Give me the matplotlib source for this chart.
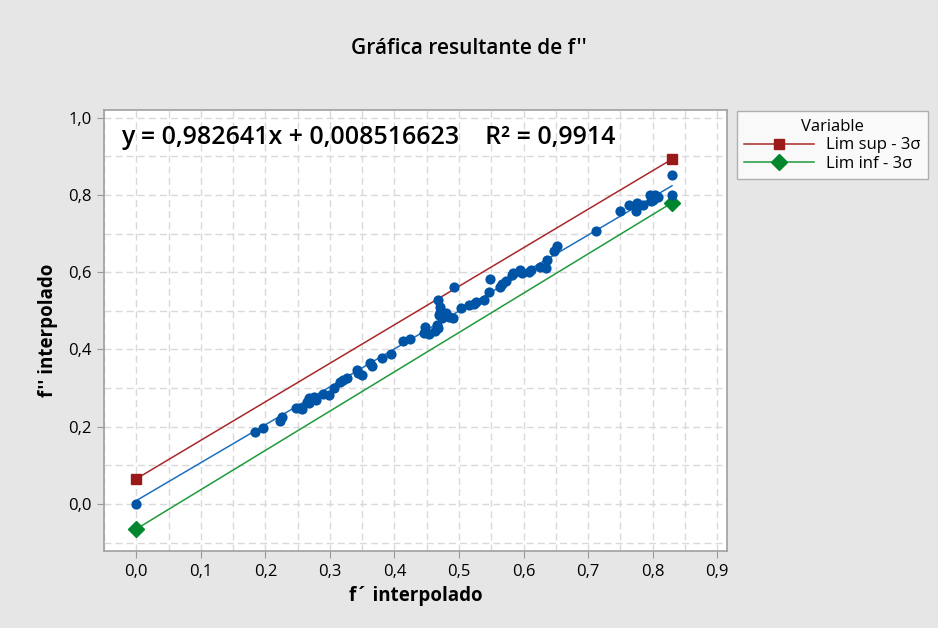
import matplotlib
matplotlib.use("Agg")
import matplotlib.pyplot as plt
from matplotlib.ticker import MultipleLocator, FuncFormatter
import numpy as np

# observed points (f' interpolado, f'' interpolado)
f_prime = [0.000, 0.184, 0.196, 0.222, 0.226, 0.248, 0.253, 0.256, 0.265, 0.267,
           0.268, 0.275, 0.279, 0.289, 0.299, 0.306, 0.315, 0.321, 0.327, 0.342,
           0.344, 0.350, 0.362, 0.365, 0.380, 0.394, 0.414, 0.424, 0.446, 0.448,
           0.454, 0.463, 0.468, 0.466, 0.467, 0.470, 0.471, 0.469, 0.473, 0.480,
           0.484, 0.491, 0.492, 0.503, 0.516, 0.523, 0.527, 0.538, 0.547, 0.548,
           0.564, 0.566, 0.573, 0.582, 0.584, 0.594, 0.597, 0.608, 0.611, 0.625,
           0.635, 0.636, 0.647, 0.652, 0.712, 0.749, 0.764, 0.774, 0.776, 0.785,
           0.796, 0.797, 0.800, 0.804, 0.809, 0.830, 0.830]
f_double = [0.000, 0.186, 0.197, 0.215, 0.224, 0.248, 0.248, 0.246, 0.265, 0.261,
            0.274, 0.278, 0.269, 0.285, 0.282, 0.300, 0.317, 0.321, 0.327, 0.347,
            0.339, 0.334, 0.365, 0.356, 0.377, 0.389, 0.422, 0.428, 0.444, 0.459,
            0.440, 0.449, 0.455, 0.464, 0.527, 0.511, 0.498, 0.490, 0.481, 0.494,
            0.485, 0.481, 0.561, 0.507, 0.516, 0.518, 0.522, 0.528, 0.548, 0.582,
            0.563, 0.570, 0.578, 0.593, 0.598, 0.606, 0.598, 0.602, 0.606, 0.613,
            0.610, 0.632, 0.654, 0.667, 0.707, 0.759, 0.774, 0.759, 0.779, 0.774,
            0.801, 0.785, 0.788, 0.801, 0.796, 0.852, 0.801]

# fit and 3-sigma limits
slope = 0.982641
intercept = 0.008516623
r_squared = 0.9914
lim_x = [0.0, 0.83]
lim_sup = [0.065, 0.893]
lim_inf = [-0.065, 0.780]

BG = "#e6e6e6"
BLUE = "#0054a6"
RED = "#9a1a1a"
GREEN = "#00872e"

plt.rcParams["font.family"] = ["Open Sans", "DejaVu Sans"]

fig = plt.figure(figsize=(9.38, 6.28), dpi=100, facecolor=BG)
ax = fig.add_axes([0.1109, 0.1226, 0.664, 0.702])
ax.set_facecolor("white")

ax.set_xlim(-0.05, 0.915)
ax.set_ylim(-0.122, 1.02)

ax.xaxis.set_major_locator(MultipleLocator(0.1))
ax.xaxis.set_minor_locator(MultipleLocator(0.05))
ax.yaxis.set_major_locator(MultipleLocator(0.2))
ax.yaxis.set_minor_locator(MultipleLocator(0.1))
comma = FuncFormatter(lambda v, _: f"{v:.1f}".replace(".", ",").replace("-0,0", "0,0"))
ax.xaxis.set_major_formatter(comma)
ax.yaxis.set_major_formatter(comma)

ax.grid(which="both", color="#d9d9d9", linestyle=(0, (5, 3)), linewidth=1.0)
ax.set_axisbelow(True)
ax.tick_params(which="major", length=5, color="#999999", labelsize=12, pad=4)
ax.tick_params(which="minor", length=0)
for s in ax.spines.values():
    s.set_color("#a0a0a0")
    s.set_linewidth(1.2)

# regression line
fx = np.array(lim_x)
ax.plot(fx, slope * fx + intercept, color="#1f6fc0", linewidth=1.1, zorder=3)
ax.scatter(f_prime, f_double, s=54, color=BLUE, zorder=4, linewidths=0)

ax.plot(lim_x, lim_sup, color="#a8282a", linewidth=1.1, marker="s",
        markersize=6.5, markerfacecolor=RED, markeredgecolor=RED,
        label="Lim sup - 3σ", zorder=3)
ax.plot(lim_x, lim_inf, color="#1f9a3c", linewidth=1.1, marker="D",
        markersize=8, markerfacecolor=GREEN, markeredgecolor=GREEN,
        label="Lim inf - 3σ", zorder=3)

eq = f"y = {slope:.6f}x + {intercept:.9f}    R² = {r_squared:.4f}".replace(".", ",")
ax.text(0.028, 0.967, eq, transform=ax.transAxes, fontsize=18,
        fontweight="semibold", va="top", ha="left", color="black")

fig.text(0.5, 0.922, "Gráfica resultante de f''", ha="center", va="center",
         fontsize=15, fontweight="semibold")
ax.set_xlabel("f´ interpolado", fontsize=13.5, fontweight="bold", labelpad=5)
ax.set_ylabel("f'' interpolado", fontsize=13.5, fontweight="bold", labelpad=7)

leg = fig.legend(loc="upper left", bbox_to_anchor=(0.782, 0.828), title="Variable",
                 fontsize=12, title_fontsize=12, frameon=True, fancybox=False,
                 handlelength=4.2, borderpad=0.45, labelspacing=0.15,
                 handletextpad=0.7, borderaxespad=0.2)
leg.get_frame().set_edgecolor("#a0a0a0")
leg.get_frame().set_linewidth(1.0)
leg._legend_box.align = "center"

fig.savefig("out.png", dpi=100, facecolor=BG)
